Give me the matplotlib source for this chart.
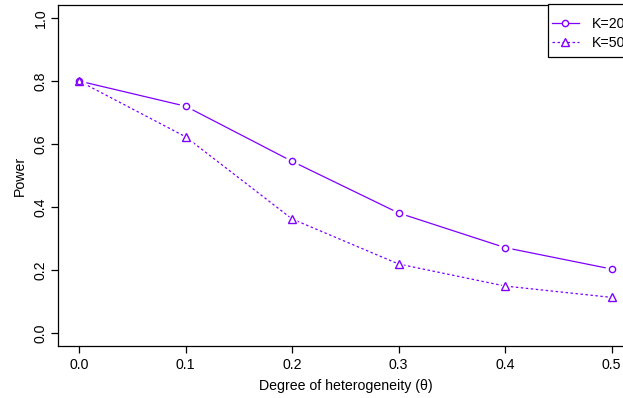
import matplotlib.pyplot as plt
from matplotlib.patches import Rectangle

# values
theta = [0.0, 0.1, 0.2, 0.3, 0.4, 0.5]
power_k20 = [0.80, 0.72, 0.545, 0.381, 0.271, 0.203]
power_k50 = [0.80, 0.623, 0.362, 0.219, 0.149, 0.113]
x_ticks = [0.0, 0.1, 0.2, 0.3, 0.4, 0.5]
y_ticks = [0.0, 0.2, 0.4, 0.6, 0.8, 1.0]

col = '#7f00ff'
fs = 10.2
W, H = 623, 398
plt.rcParams['font.family'] = ['Liberation Sans', 'DejaVu Sans']

fig = plt.figure(figsize=(W / 100, H / 100), dpi=100)
# plot region runs a little past the right edge, like the reference
ax = fig.add_axes([57.7 / W, 52.4 / H, (633 - 57.7) / W, (345.6 - 5.4) / H])

# lines first, then white halos to make the R type="b" gaps, then markers
ax.plot(theta, power_k20, color=col, lw=0.9, ls='-', zorder=2)
ax.plot(theta, power_k50, color=col, lw=0.9, ls=(0, (2, 2)), zorder=2)
ax.plot(theta, power_k20, ls='none', marker='o', ms=9, mfc='white', mec='white', zorder=3)
ax.plot(theta, power_k50, ls='none', marker='^', ms=9.5, mfc='white', mec='white', zorder=3)
ax.plot(theta, power_k20, ls='none', marker='o', ms=4.5, mfc='white', mec=col, mew=1.0, zorder=4)
ax.plot(theta, power_k50, ls='none', marker='^', ms=5.5, mfc='none', mec=col, mew=1.0, zorder=5)

ax.set_xlim(-0.02, 0.52)
ax.set_ylim(-0.04, 1.04)
ax.set_xticks(x_ticks)
ax.set_xticklabels(['%.1f' % v for v in x_ticks])
ax.set_yticks(y_ticks)
ax.set_yticklabels(['%.1f' % v for v in y_ticks], rotation=90, va='center')
ax.tick_params(direction='out', length=5, width=0.9, labelsize=fs)
ax.tick_params(axis='x', pad=4)
ax.tick_params(axis='y', pad=2)
for s in ax.spines.values():
    s.set_linewidth(0.9)

ax.set_xlabel('Degree of heterogeneity (θ)', fontsize=fs, labelpad=5)
ax.set_ylabel('Power', fontsize=fs, labelpad=5)

# legend: R style box drawn by hand, entries from matplotlib legend
h1, = ax.plot([], [], color=col, lw=0.9, marker='o', ms=4.5, mfc='white', mec=col)
h2, = ax.plot([], [], color=col, lw=0.9, ls=(0, (2, 2)), marker='^', ms=5.5, mfc='white', mec=col)
leg = fig.legend([h1, h2], ['K=20', 'K=50'], loc='upper left',
                 bbox_to_anchor=(552 / W, 1 - 17 / H), borderaxespad=0, borderpad=0,
                 fontsize=fs, frameon=False, handlelength=1.9, handletextpad=0.9,
                 labelspacing=0.35)
fig.add_artist(Rectangle((548 / W, 1 - 57 / H), 120 / W, 53 / H, transform=fig.transFigure,
                         fill=True, fc='white', ec='black', lw=0.9, zorder=1))
leg.set_zorder(2)

fig.savefig('out.png', dpi=100)
